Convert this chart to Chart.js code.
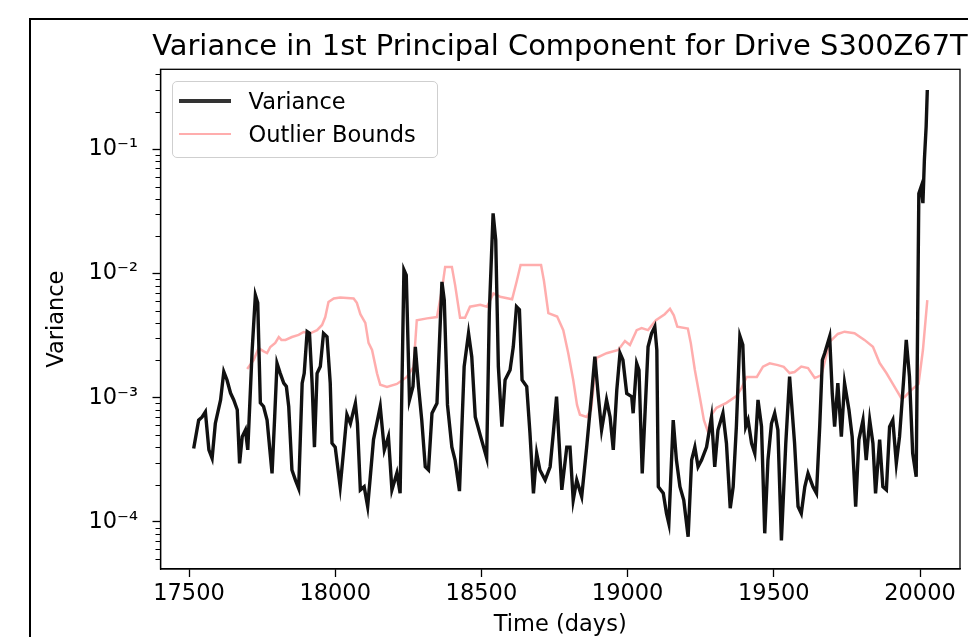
<!DOCTYPE html>
<html>
<head>
<meta charset="utf-8">
<script src="https://cdn.jsdelivr.net/npm/chart.js@4.4.1/dist/chart.umd.min.js"></script>
<style>
html,body{margin:0;padding:0;background:#fff;overflow:hidden;}
#wrap{position:relative;width:968px;height:637px;overflow:hidden;background:#fff;}
#c{position:absolute;left:0;top:0;}
#frame{position:absolute;left:29px;top:18px;width:2000px;height:2000px;border-left:2px solid #000;border-top:2px solid #000;pointer-events:none;}
#title{position:absolute;left:0;width:1120px;top:28px;height:35px;line-height:35px;text-align:center;white-space:nowrap;font-family:'DejaVu Sans';font-size:28.9px;color:#000;}
#legend{position:absolute;left:171.5px;top:80.5px;width:264px;height:75px;border:1px solid #cfcfcf;border-radius:5px;background:rgba(255,255,255,0.8);font-family:'DejaVu Sans';font-size:22.5px;color:#000;}
.lg-line{position:absolute;left:6px;width:52px;}
.lg-text{position:absolute;left:76px;line-height:27px;white-space:nowrap;}
</style>
</head>
<body>
<div id="wrap">
  <canvas id="c" width="968" height="637"></canvas>
  <div id="frame"></div>
  <div id="title"></div>
  <div id="legend">
    <div class="lg-line" style="top:17.5px;height:3.5px;background:#333;"></div>
    <div class="lg-text" id="lg0" style="top:6px;"></div>
    <div class="lg-line" style="top:51px;height:2.5px;background:rgba(255,0,0,0.32);"></div>
    <div class="lg-text" id="lg1" style="top:39.5px;"></div>
  </div>
</div>
<script>
const titleText = 'Variance in 1st Principal Component for Drive S300Z67T';
const xLabel = 'Time (days)';
const yLabel = 'Variance';
const seriesNames = ['Variance', 'Outlier Bounds'];
const xTickValues = [17500, 18000, 18500, 19000, 19500, 20000];
const yTickValues = [1e-4, 1e-3, 1e-2, 1e-1];

const varDays = [17516,17533,17545,17556,17568,17579,17590,17608,17619,17630,17642,17653,17665,17673,17682,17693,17701,17716,17727,17735,17744,17755,17767,17784,17793,17801,17812,17824,17833,17841,17852,17864,17875,17887,17894,17904,17912,17921,17929,17938,17949,17960,17972,17983,17989,18000,18017,18029,18040,18052,18069,18076,18086,18099,18111,18120,18131,18154,18168,18182,18194,18211,18222,18235,18243,18254,18266,18274,18285,18296,18308,18319,18331,18348,18365,18373,18384,18399,18410,18425,18441,18456,18467,18479,18496,18518,18527,18540,18549,18558,18570,18581,18598,18609,18620,18630,18639,18655,18666,18678,18689,18700,18718,18735,18746,18757,18775,18792,18803,18814,18826,18843,18860,18877,18888,18900,18911,18928,18940,18951,18963,18974,18984,18997,19014,19019,19031,19039,19050,19059,19070,19082,19093,19100,19105,19122,19133,19141,19156,19167,19179,19192,19207,19219,19230,19241,19253,19270,19287,19298,19309,19326,19338,19351,19361,19372,19384,19394,19404,19412,19424,19435,19446,19458,19469,19480,19492,19503,19514,19526,19541,19554,19571,19583,19594,19606,19617,19634,19646,19657,19666,19674,19691,19700,19708,19719,19731,19742,19757,19768,19780,19791,19805,19816,19828,19839,19848,19862,19873,19885,19896,19907,19919,19930,19944,19953,19964,19975,19987,19996,20004,20010,20015,20021,20025];
const varValues = [3.9e-4,6.6e-4,7.0e-4,7.7e-4,3.8e-4,3.25e-4,6.2e-4,9.6e-4,1.62e-3,1.39e-3,1.09e-3,9.6e-4,8.0e-4,2.96e-4,4.86e-4,5.5e-4,3.8e-4,2.42e-3,6.7e-3,5.8e-3,9.1e-4,8.5e-4,6.6e-4,2.46e-4,7.0e-4,1.89e-3,1.57e-3,1.31e-3,1.23e-3,8.5e-4,2.62e-4,2.17e-4,1.86e-4,1.31e-3,1.57e-3,3.4e-3,3.3e-3,1.31e-3,4.0e-4,1.57e-3,1.78e-3,3.3e-3,3.1e-3,1.31e-3,4.3e-4,4.0e-4,1.92e-4,3.8e-4,7.3e-4,6.2e-4,9.0e-4,6.2e-4,1.81e-4,1.92e-4,1.33e-4,2.31e-4,4.6e-4,8.5e-4,3.8e-4,4.86e-4,1.81e-4,2.48e-4,1.70e-4,1.07e-2,9.7e-3,9.6e-4,1.23e-3,2.57e-3,1.23e-3,6.6e-4,2.78e-4,2.62e-4,7.5e-4,9.0e-4,8.55e-3,6.1e-3,8.75e-4,4.0e-4,3.15e-4,1.77e-4,1.78e-3,3.3e-3,2.14e-3,7.0e-4,5.0e-4,3.27e-4,4.8e-3,3.05e-2,1.86e-2,1.78e-3,5.85e-4,1.39e-3,1.67e-3,2.57e-3,5.4e-3,5.1e-3,1.39e-3,1.23e-3,5.2e-4,1.70e-4,3.57e-4,2.62e-4,2.17e-4,2.78e-4,5.2e-4,1.02e-3,1.81e-4,4.0e-4,4.0e-4,1.50e-4,2.17e-4,1.60e-4,4.0e-4,1.08e-3,2.14e-3,1.02e-3,5.5e-4,9.6e-4,7.0e-4,3.8e-4,1.15e-3,2.28e-3,2.01e-3,1.08e-3,1.02e-3,7.5e-4,1.89e-3,1.67e-3,2.46e-4,7.0e-4,2.57e-3,3.3e-3,3.73e-3,2.42e-3,1.92e-4,1.70e-4,1.17e-4,9.7e-5,6.6e-4,3.15e-4,1.92e-4,1.50e-4,7.6e-5,3.15e-4,4.0e-4,2.78e-4,3.15e-4,4.0e-4,7.0e-4,2.78e-4,5.5e-4,7.5e-4,4.3e-4,1.29e-4,1.92e-4,5.85e-4,3.14e-3,2.66e-3,5.85e-4,6.6e-4,4.3e-4,3.57e-4,9.6e-4,5.85e-4,8.1e-5,3.15e-4,6.2e-4,7.5e-4,5.5e-4,7.1e-5,4.3e-4,1.48e-3,4.3e-4,1.33e-4,1.17e-4,1.92e-4,2.46e-4,1.92e-4,1.70e-4,5.85e-4,2.01e-3,2.28e-3,3.1e-3,1.08e-3,5.85e-4,1.31e-3,4.86e-4,1.31e-3,8.0e-4,4.86e-4,1.33e-4,4.6e-4,6.6e-4,3.15e-4,6.6e-4,4.3e-4,1.70e-4,4.6e-4,1.92e-4,1.81e-4,5.85e-4,6.6e-4,2.96e-4,4.86e-4,1.39e-3,2.92e-3,1.48e-3,3.57e-4,2.31e-4,4.4e-2,5.0e-2,3.68e-2,8.2e-2,1.52e-1,3.0e-1];

const boundDays = [17699,17721,17738,17754,17767,17778,17795,17807,17816,17830,17852,17875,17892,17915,17938,17955,17966,17977,17995,18017,18063,18074,18086,18103,18114,18126,18143,18154,18177,18211,18245,18268,18279,18314,18348,18365,18376,18399,18410,18427,18444,18461,18496,18519,18541,18564,18605,18621,18634,18704,18714,18729,18759,18780,18797,18814,18827,18837,18860,18875,18894,18928,18968,18991,19008,19031,19048,19070,19097,19127,19145,19158,19170,19206,19216,19230,19247,19261,19275,19287,19304,19338,19372,19390,19407,19442,19463,19486,19514,19534,19554,19571,19594,19617,19640,19663,19674,19691,19719,19742,19776,19810,19839,19862,19885,19907,19936,19947,19970,19995,20010,20025];
const boundValues = [1.70e-3,2.01e-3,2.51e-3,2.37e-3,2.29e-3,2.56e-3,2.76e-3,3.08e-3,2.92e-3,2.92e-3,3.08e-3,3.2e-3,3.38e-3,3.3e-3,3.5e-3,3.85e-3,4.46e-3,5.9e-3,6.3e-3,6.4e-3,6.3e-3,5.8e-3,4.7e-3,4.0e-3,2.76e-3,2.42e-3,1.57e-3,1.27e-3,1.22e-3,1.29e-3,1.47e-3,1.77e-3,4.2e-3,4.35e-3,4.46e-3,7.4e-3,1.13e-2,1.13e-2,8.1e-3,4.4e-3,4.4e-3,5.4e-3,5.6e-3,5.4e-3,6.9e-3,6.5e-3,6.2e-3,8.7e-3,1.17e-2,1.17e-2,8.7e-3,4.8e-3,4.5e-3,3.5e-3,2.28e-3,1.39e-3,8.75e-4,7.3e-4,7.0e-4,8.0e-4,2.09e-3,2.28e-3,2.42e-3,2.86e-3,2.66e-3,3.5e-3,3.63e-3,3.5e-3,4.2e-3,4.7e-3,5.2e-3,4.6e-3,3.73e-3,3.6e-3,2.76e-3,1.67e-3,1.01e-3,6.6e-4,5.3e-4,7.3e-4,8.3e-4,9.1e-4,1.03e-3,1.20e-3,1.47e-3,1.47e-3,1.78e-3,1.89e-3,1.83e-3,1.77e-3,1.58e-3,1.61e-3,1.78e-3,1.73e-3,1.44e-3,1.52e-3,1.94e-3,2.81e-3,3.26e-3,3.4e-3,3.3e-3,2.92e-3,2.57e-3,1.90e-3,1.58e-3,1.29e-3,9.9e-4,1.01e-3,1.15e-3,1.29e-3,2.42e-3,6.1e-3];

document.getElementById('title').textContent = titleText;
document.getElementById('lg0').textContent = seriesNames[0];
document.getElementById('lg1').textContent = seriesNames[1];

const SUP = {'-':'\u207B','0':'\u2070','1':'\u00B9','2':'\u00B2','3':'\u00B3','4':'\u2074','5':'\u2075','6':'\u2076','7':'\u2077','8':'\u2078','9':'\u2079'};
function logLabel(v){
  const e = Math.round(Math.log10(v));
  return '10' + String(e).split('').map(c => SUP[c]).join('');
}

const FONT = 'DejaVu Sans';

const frameAndMinor = {
  id: 'frameAndMinor',
  afterDatasetsDraw(chart) {
    const ctx = chart.ctx, a = chart.chartArea, y = chart.scales.y;
    ctx.save();
    ctx.strokeStyle = '#000';
    ctx.lineWidth = 1;
    for (let e = -6; e <= 0; e++) {
      for (let m = 2; m <= 9; m++) {
        const v = m * Math.pow(10, e);
        if (v < y.min || v > y.max) continue;
        const py = Math.round(y.getPixelForValue(v)) + 0.5;
        ctx.beginPath();
        ctx.moveTo(a.left - 5, py);
        ctx.lineTo(a.left, py);
        ctx.stroke();
      }
    }
    ctx.lineWidth = 1.3;
    ctx.strokeRect(a.left, a.top, a.right - a.left, a.bottom - a.top);
    ctx.restore();
  }
};

new Chart(document.getElementById('c'), {
  type: 'line',
  data: {
    datasets: [
      {
        label: seriesNames[0],
        data: varDays.map((d, i) => ({x: d, y: varValues[i]})),
        borderColor: '#111',
        borderWidth: 3.4,
        pointRadius: 0,
        tension: 0,
        fill: false
      },
      {
        label: seriesNames[1],
        data: boundDays.map((d, i) => ({x: d, y: boundValues[i]})),
        borderColor: 'rgba(255,0,0,0.32)',
        borderWidth: 2.5,
        pointRadius: 0,
        tension: 0,
        fill: false
      }
    ]
  },
  options: {
    responsive: false,
    animation: false,
    devicePixelRatio: 1,
    layout: {padding: {top: 69.3, left: 0, right: 8, bottom: 0}},
    plugins: {
      legend: {display: false},
      tooltip: {enabled: false},
      title: {display: false}
    },
    scales: {
      x: {
        type: 'linear',
        position: 'bottom',
        min: 17402.5,
        max: 20136.8,
        afterBuildTicks: s => { s.ticks = xTickValues.map(v => ({value: v})); },
        afterFit: s => { s.height = 68; },
        ticks: {
          font: {family: FONT, size: 22.5},
          color: '#000',
          padding: 4,
          maxRotation: 0,
          autoSkip: false,
          callback: v => String(v)
        },
        grid: {display: true, drawOnChartArea: false, drawTicks: true, tickLength: 8, tickColor: '#000', tickWidth: 1.3},
        border: {display: true, color: '#000', width: 1.3},
        title: {display: true, text: xLabel, color: '#000', font: {family: FONT, size: 22.5}, padding: {top: 0, bottom: -2}}
      },
      y: {
        type: 'logarithmic',
        position: 'left',
        min: 4.18e-5,
        max: 0.44,
        afterBuildTicks: s => { s.ticks = yTickValues.map(v => ({value: v})); },
        afterFit: s => { s.width = 160.5; },
        ticks: {
          font: {family: FONT, size: 22.5},
          color: '#000',
          padding: 14.5,
          autoSkip: false,
          callback: v => logLabel(v)
        },
        grid: {display: true, drawOnChartArea: false, drawTicks: true, tickLength: 8, tickColor: '#000', tickWidth: 1.3},
        border: {display: true, color: '#000', width: 1.3},
        title: {display: true, text: yLabel, color: '#000', font: {family: FONT, size: 22.5}, padding: {top: 44, bottom: 0}}
      }
    }
  },
  plugins: [frameAndMinor]
});
</script>
</body>
</html>
